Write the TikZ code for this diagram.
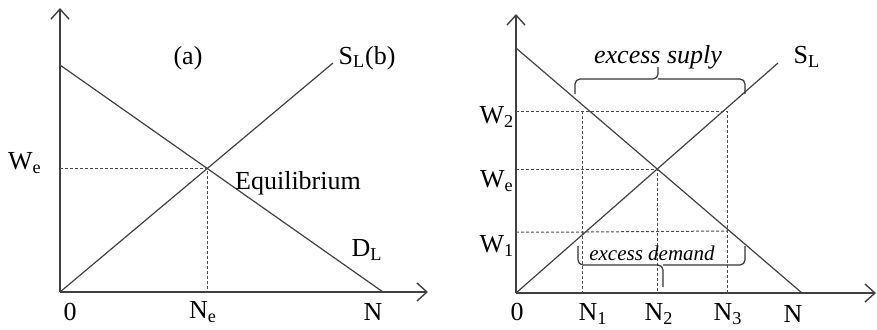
\documentclass[tikz,border=0pt]{standalone}
\usepackage{fontspec}
\setmainfont{Liberation Serif}
\usepackage{tikz}
\usetikzlibrary{arrows.meta}
\usetikzlibrary{positioning, intersections}

\begin{document}
\begin{tikzpicture}[x=0.5pt, y=-0.5pt,
    axis/.style={line width=0.7pt, black!75, -{Straight Barb[length=5pt, width=9pt]}},
    curve/.style={line width=0.6pt, black!75},
    guide/.style={line width=0.5pt, black!70, dash pattern=on 1.5pt off 1pt},
    brc/.style={line width=0.6pt, black!80, rounded corners=2.5pt},
    lbl/.style={font=\fontsize{13}{15}\selectfont, inner sep=1pt},
    small/.style={font=\fontsize{10.5}{12}\selectfont\itshape, inner sep=1pt}]
    \useasboundingbox (0,0) rectangle (877,329);

    % (a) 均衡
    \coordinate (O1) at (60,292);
    \draw[axis] (O1) -- (60,8);
    \draw[axis] (O1) -- (428,292);
    \draw[curve, name path=dl1] (60,65) -- (383,292);
    \draw[curve, name path=sl1] (O1) -- (333,63);
    \path[name intersections={of=dl1 and sl1, by=E1}];
    \coordinate (we1) at (O1 |- E1);
    \coordinate (ne1) at (E1 |- O1);
    \draw[guide] (we1) -- (E1) -- (ne1);

    \node[lbl] (tagA) at (188,58) {(a)};
    \node[lbl] (sL1) at (367,58) {S\textsubscript{L}(b)};
    \node[lbl] (dL1) at (367,250) {D\textsubscript{L}};
    \node[lbl] (eq) at (298,183) {Equilibrium};
    \node[lbl] (We1) at (25,163) {W\textsubscript{e}};
    \node[lbl] (zero1) at (70,312) {0};
    \node[lbl] (Ne1) at (203,312) {N\textsubscript{e}};
    \node[lbl] (N1) at (373,312) {N};

    % (b) 过剩供给与过剩需求
    \coordinate (O2) at (516,293);
    \draw[axis] (O2) -- (516,14);
    \draw[axis] (O2) -- (876,293);
    \draw[curve, name path=dl2] (516,48) -- (802,293);
    \draw[curve, name path=sl2] (O2) -- (778,63);
    \path[name intersections={of=dl2 and sl2, by=E2}];

    \coordinate (w2) at (516,111);
    \coordinate (w1) at (516,232);
    \coordinate (a2) at (582,111);
    \coordinate (b2) at (727,111);
    \coordinate (a1) at (582,232);
    \coordinate (b1) at (727,231);
    \draw[guide] (w2) -- (b2) -- (b2 |- O2);
    \draw[guide] (a2) -- (a2 |- O2);
    \draw[guide] (w1) -- (a1) -- (b1);
    \draw[guide] (O2 |- E2) -- (E2) -- (E2 |- O2);

    % 大括号
    \coordinate (tip1) at (658,67);
    \coordinate (tip2) at (663,287);
    \draw[brc] (575,94) |- (658,79) -- (tip1);
    \draw[brc] (745,94) |- (658,79);
    \draw[brc] (578,246) |- (663,265) -- (tip2);
    \draw[brc] (745,246) |- (663,265);

    \node[lbl, font=\fontsize{13}{15}\selectfont\itshape] (xs) at (658,57) {excess suply};
    \node[small] (xd) at (652,253) {excess demand};
    \node[lbl] (sL2) at (807,57) {S\textsubscript{L}};
    \node[lbl] (W2) at (497,117) {W\textsubscript{2}};
    \node[lbl] (We2) at (497,181) {W\textsubscript{e}};
    \node[lbl] (W1) at (497,246) {W\textsubscript{1}};
    \node[lbl] (zero2) at (517,312) {0};
    \node[lbl] (N1b) at (593,314) {N\textsubscript{1}};
    \node[lbl] (N2b) at (659,314) {N\textsubscript{2}};
    \node[lbl] (N3b) at (728,314) {N\textsubscript{3}};
    \node[lbl] (Nb) at (793,314) {N};
\end{tikzpicture}
\end{document}
